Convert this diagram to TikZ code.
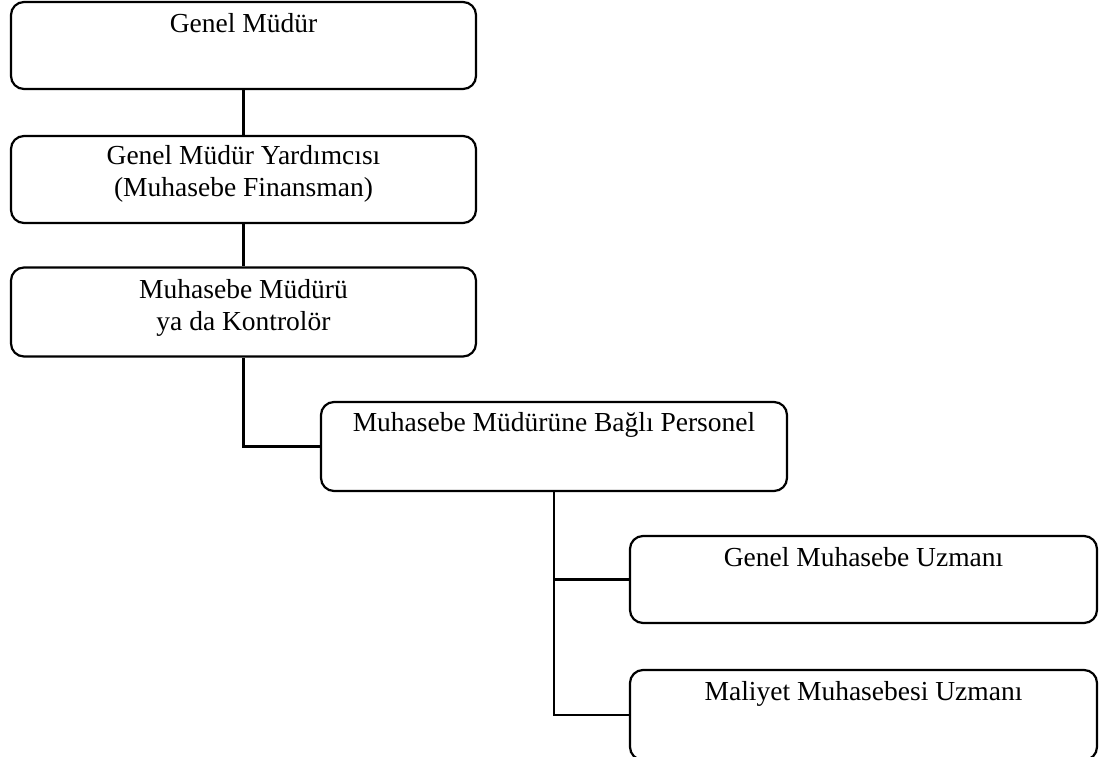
\documentclass[tikz,border=0pt]{standalone}
\usepackage{fontspec}
\setmainfont{Liberation Serif}
\begin{document}
\begin{tikzpicture}[x=1pt,y=-1pt,
  box/.style={draw, line width=2.2pt, rounded corners=13pt, inner sep=0pt},
  txt/.style={anchor=base, align=center, inner sep=0pt,
              font=\fontsize{27.5}{32}\selectfont},
  link/.style={line width=2.2pt}]
\useasboundingbox (0,0) rectangle (1113,757);
\clip (0,0) rectangle (1113,757);

% organisation boxes
\node[box, minimum width=465pt, minimum height=87pt] (b1) at (243.5,45.5) {};
\node[box, minimum width=465pt, minimum height=87pt] (b2) at (243.5,179.5) {};
\node[box, minimum width=465pt, minimum height=89pt] (b3) at (243.5,312) {};
\node[box, minimum width=466pt, minimum height=89pt] (b4) at (554,446.5) {};
\node[box, minimum width=467pt, minimum height=87pt] (b5) at (863.5,579.5) {};
\node[box, minimum width=467pt, minimum height=90pt] (b6) at (863.5,715) {};

% titles, set near the top of each box (base = last line of a two-line title)
\node[txt] (t1) at ([yshift=-32pt]b1.north) {Genel Müdür};
\node[txt] (t2) at ([yshift=-62pt]b2.north) {Genel Müdür Yardımcısı\\(Muhasebe Finansman)};
\node[txt] (t3) at ([yshift=-64pt]b3.north) {Muhasebe Müdürü\\ya da Kontrolör};
\node[txt] (t4) at ([yshift=-31pt]b4.north) {Muhasebe Müdürüne Bağlı Personel};
\node[txt] (t5) at ([yshift=-32pt]b5.north) {Genel Muhasebe Uzmanı};
\node[txt] (t6) at ([yshift=-32pt]b6.north) {Maliyet Muhasebesi Uzmanı};

% reporting lines
\draw[link] (b1.south) -- (b2.north);
\draw[link] (b2.south) -- (b3.north);
\draw[link] (b3.south) |- (b4.west);
\draw[link] (b4.south) |- (b5.west);
\draw[link] (b4.south) |- (b6.west);
\end{tikzpicture}
\end{document}
